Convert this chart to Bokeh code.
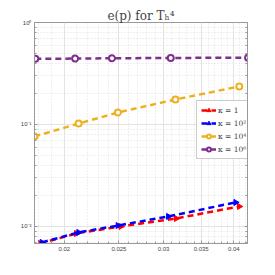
import math
from bokeh.plotting import figure
from bokeh.models import (LogAxis, FixedTicker, Legend, LegendItem, Range1d)
from bokeh.embed import file_html
from bokeh.resources import INLINE

# data
h_k1 = [0.01812, 0.0210, 0.0252, 0.0316, 0.0409]
e_k1 = [0.00681, 0.00853, 0.0100, 0.01197, 0.0157]
h_k2 = [0.01825, 0.0212, 0.0249, 0.0306, 0.0403]
e_k2 = [0.00697, 0.00873, 0.0102, 0.01253, 0.0172]
h_k4 = [0.01769, 0.0212, 0.0249, 0.0315, 0.0409]
e_k4 = [0.0762, 0.102, 0.131, 0.176, 0.236]
h_k6 = [0.01776, 0.0209, 0.0243, 0.0309, 0.0424]
e_k6 = [0.440, 0.443, 0.446, 0.449, 0.452]

labels = ["κ = 1", "κ = 10²", "κ = 10⁴", "κ = 10⁶"]
colors = ["#ff0000", "#0000ff", "#EDB120", "#7E2F8E"]

x_ticks = [0.02, 0.025, 0.03, 0.035, 0.04]
x_tick_labels = ["0.02", "0.025", "0.03", "0.035", "0.04"]
y_ticks = [1e-2, 1e-1, 1e0]
y_tick_labels = ["10⁻²", "10⁻¹", "10⁰"]

x_minor = [v / 1000 for v in range(18, 43) if v not in (20, 25, 30, 35, 40)]
y_minor = [m * 10.0 ** e for e in (-3, -2, -1) for m in range(2, 10)]

p = figure(frame_width=213, frame_height=221, x_axis_type="log", y_axis_type="log",
           x_range=Range1d(0.0177, 0.0423), y_range=Range1d(0.0068, 1.0),
           output_backend="svg", toolbar_location=None,
           title="e(p) for Tₕ⁴",
           min_border_left=34, min_border_right=4, min_border_top=22, min_border_bottom=10)
p.title.align = "center"
p.title.text_font = "DejaVu Serif"
p.title.text_font_size = "12px"
p.title.text_font_style = "normal"
p.title.standoff = 0

p.outline_line_color = "#999999"

for ax in (p.xaxis[0], p.yaxis[0]):
    ax.axis_line_color = "#999999"
    ax.major_tick_line_color = "#999999"
    ax.minor_tick_line_color = "#999999"
    ax.major_tick_in = 3
    ax.major_tick_out = 0
    ax.minor_tick_in = 2
    ax.minor_tick_out = 0
    ax.major_label_text_font_size = "6px"
    ax.major_label_text_color = "#444444"
    ax.major_label_standoff = 3

p.xaxis[0].ticker = FixedTicker(ticks=x_ticks, minor_ticks=x_minor)
p.xaxis[0].major_label_overrides = {t: l for t, l in zip(x_ticks, x_tick_labels)}
p.yaxis[0].ticker = FixedTicker(ticks=y_ticks, minor_ticks=y_minor)
p.yaxis[0].major_label_overrides = {t: l for t, l in zip(y_ticks, y_tick_labels)}

# right axis with ticks only
ra = LogAxis(ticker=FixedTicker(ticks=y_ticks, minor_ticks=y_minor),
             major_label_text_color=None, major_label_text_font_size="4px",
             axis_line_color="#999999",
             major_tick_line_color="#999999", minor_tick_line_color="#999999",
             major_tick_in=3, major_tick_out=0, minor_tick_in=2, minor_tick_out=0,
             major_label_standoff=0)
ra.major_label_overrides = {t: "" for t in y_ticks}
p.add_layout(ra, "right")

for g, tk, mn in ((p.xgrid[0], x_ticks, x_minor), (p.ygrid[0], y_ticks, y_minor)):
    g.ticker = FixedTicker(ticks=tk, minor_ticks=mn)
    g.grid_line_color = "#e3e3e3"
    g.grid_line_width = 1
    g.minor_grid_line_color = "#e0e0e0"
    g.minor_grid_line_dash = "1 2"

series = [(h_k1, e_k1), (h_k2, e_k2), (h_k4, e_k4), (h_k6, e_k6)]
items = []
for i, ((hx, ey), c, lab) in enumerate(zip(series, colors, labels)):
    r_line = p.line(hx, ey, line_color=c, line_width=2.5, line_dash="6 4")
    if i < 2:
        r_mark = p.scatter(hx, ey, marker="triangle", angle=-math.pi / 2, size=6,
                           line_color=c, fill_color=c)
    else:
        r_mark = p.scatter(hx, ey, marker="circle", size=6, line_width=2,
                           line_color=c, fill_color="white")
    items.append(LegendItem(label=lab, renderers=[r_line, r_mark]))

legend = Legend(items=items, location=(162, 84), label_text_font_size="7.5px",
                label_text_font="DejaVu Serif",
                glyph_width=15, glyph_height=10, label_height=10, spacing=3,
                padding=4, margin=0, border_line_color="#999999",
                label_standoff=2)
p.add_layout(legend)

open("out.html", "w").write(file_html(p, INLINE))
